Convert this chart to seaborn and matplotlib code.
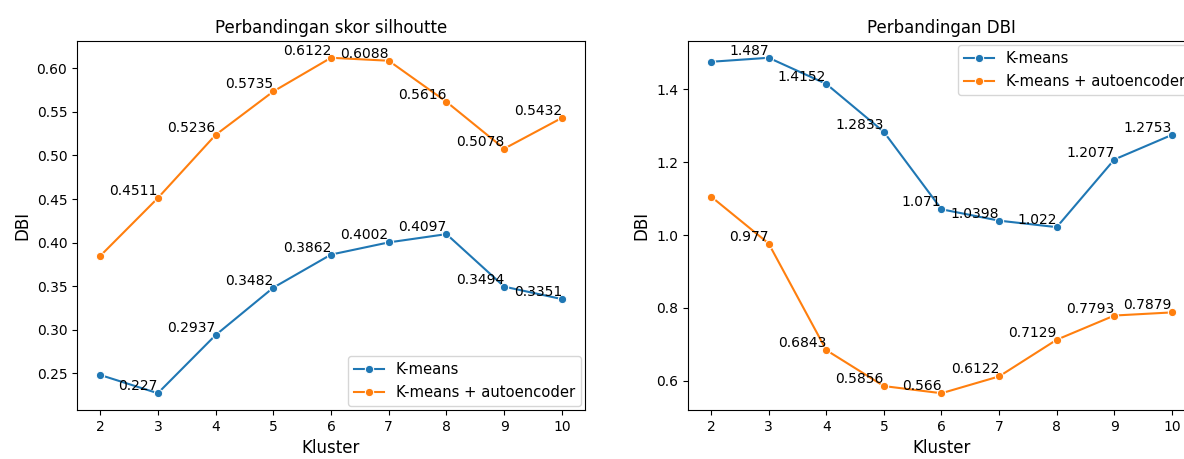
import matplotlib
matplotlib.use("Agg")
import matplotlib.pyplot as plt
import seaborn as sns
import pandas as pd

klusters = [2, 3, 4, 5, 6, 7, 8, 9, 10]
series_names = ["K-means", "K-means + autoencoder"]
sil_kmeans = [0.248, 0.227, 0.2937, 0.3482, 0.3862, 0.4002, 0.4097, 0.3494, 0.3351]
sil_auto = [0.3845, 0.4511, 0.5236, 0.5735, 0.6122, 0.6088, 0.5616, 0.5078, 0.5432]
dbi_kmeans = [1.476, 1.487, 1.4152, 1.2833, 1.071, 1.0398, 1.022, 1.2077, 1.2753]
dbi_auto = [1.106, 0.977, 0.6843, 0.5856, 0.566, 0.6122, 0.7129, 0.7793, 0.7879]

titles = ["Perbandingan skor silhoutte", "Perbandingan DBI"]
xlabel = "Kluster"
ylabel = "DBI"


def make_df(a, b):
    return pd.DataFrame({
        "Kluster": klusters * 2,
        "val": a + b,
        "Model": [series_names[0]] * len(a) + [series_names[1]] * len(b),
    })


fig = plt.figure(figsize=(11.84, 4.59), dpi=100)
ax1 = fig.add_axes([77 / 1184, 1 - 410 / 459, 508 / 1184, 369 / 459])
ax2 = fig.add_axes([688 / 1184, 1 - 410 / 459, 507 / 1184, 369 / 459])

palette = ["#1f77b4", "#ff7f0e"]

for ax, a, b, title, loc in [
    (ax1, sil_kmeans, sil_auto, titles[0], "lower right"),
    (ax2, dbi_kmeans, dbi_auto, titles[1], "upper right"),
]:
    df = make_df(a, b)
    sns.lineplot(data=df, x="Kluster", y="val", hue="Model", marker="o",
                 palette=palette, ax=ax, markersize=6)
    for series in (a, b):
        for i in range(1, len(klusters)):
            ax.text(klusters[i], series[i], str(series[i]), ha="right",
                    va="bottom", fontsize=10)
    ax.set_title(title, fontsize=12)
    ax.set_xlabel(xlabel, fontsize=12)
    ax.set_ylabel(ylabel, fontsize=12)
    ax.set_xticks(klusters)
    ax.legend(loc=loc, title=None, fontsize=10.6, borderaxespad=0.3)

fig.savefig("out.png", dpi=100)
